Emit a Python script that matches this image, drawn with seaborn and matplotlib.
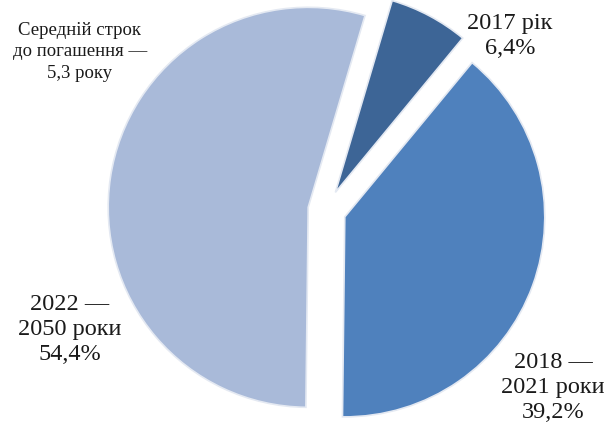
import matplotlib
matplotlib.use("Agg")
import matplotlib.pyplot as plt
import seaborn as sns

# Structure of the debt repayment schedule
periods = ["2017 рік", "2018 —\n2021 роки", "2022 —\n2050 роки"]
shares = [6.4, 39.2, 54.4]
colors = ["#3D6596", "#4F81BD", "#A9BAD9"]
explode = [0.1, 0.1, 0.09]
note = "Середній строк\nдо погашення —\n5,3 року"

sns.set_theme(style="white")
plt.rcParams["font.family"] = ["Liberation Serif", "DejaVu Serif"]

fig = plt.figure(figsize=(6.16, 4.32), dpi=100)
ax = fig.add_axes([0, 0, 1, 1])

ax.pie(
    shares,
    colors=colors,
    explode=explode,
    startangle=73.5,
    counterclock=False,
    radius=1.0,
    wedgeprops=dict(edgecolor="#e4e9f2", linewidth=1.2),
)
ax.set_xlim(-1.63, 1.45)
ax.set_ylim(-1.11, 1.05)
ax.set_aspect("equal")
ax.axis("off")


def fmt(label, value):
    return f"{label}\n{value:.1f}%".replace(".", ",")


def put(x_px, y_px, text, size, spacing):
    fig.text(x_px / 616, 1 - y_px / 432, text, ha="center", va="center",
             fontsize=size, color="#1a1a1a", linespacing=spacing)


put(510, 36, fmt(periods[0], shares[0]), 17.5, 1.25)
put(553, 387, fmt(periods[1], shares[1]), 17.5, 1.25)
put(70, 329, fmt(periods[2], shares[2]), 17.5, 1.25)
put(80, 52, note, 13.5, 1.35)

fig.savefig("out.png", dpi=100)
